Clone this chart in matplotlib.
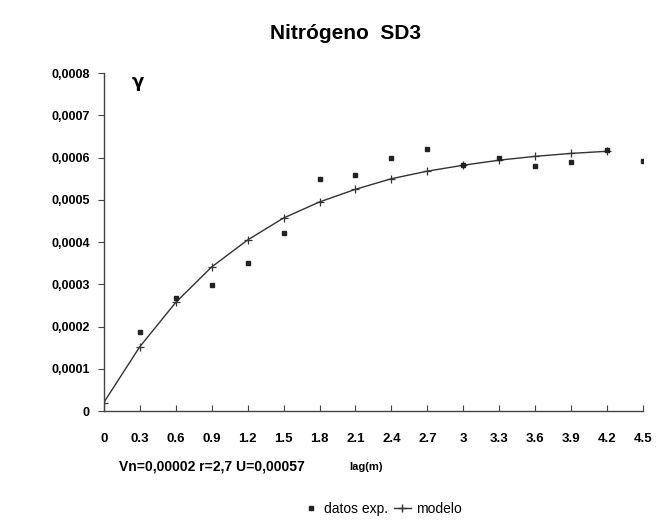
import numpy as np
import matplotlib
matplotlib.use("Agg")
import matplotlib.pyplot as plt
from matplotlib.lines import Line2D

# datos
lag_exp = [0.3, 0.6, 0.9, 1.2, 1.5, 1.8, 2.1, 2.4, 2.7, 3.0, 3.3, 3.6, 3.9, 4.2, 4.5]
gamma_exp = [0.000188, 0.000268, 0.000298, 0.000350, 0.000422, 0.000550, 0.000560,
             0.000600, 0.000620, 0.000582, 0.000598, 0.000580, 0.000590, 0.000617, 0.000592]

lag_mod = [0.0, 0.3, 0.6, 0.9, 1.2, 1.5, 1.8, 2.1, 2.4, 2.7, 3.0, 3.3, 3.6, 3.9, 4.2]
gamma_mod = [0.000020, 0.000152, 0.000257, 0.000341, 0.000405, 0.000457, 0.000495,
             0.000525, 0.000550, 0.000568, 0.000582, 0.000594, 0.000603, 0.000610, 0.000615]

xticks = [0, 0.3, 0.6, 0.9, 1.2, 1.5, 1.8, 2.1, 2.4, 2.7, 3, 3.3, 3.6, 3.9, 4.2, 4.5]
xticklabels = ['0', '0.3', '0.6', '0.9', '1.2', '1.5', '1.8', '2.1', '2.4', '2.7',
               '3', '3.3', '3.6', '3.9', '4.2', '4.5']
yticks = [0, 0.0001, 0.0002, 0.0003, 0.0004, 0.0005, 0.0006, 0.0007, 0.0008]
yticklabels = ['0', '0,0001', '0,0002', '0,0003', '0,0004', '0,0005', '0,0006', '0,0007', '0,0008']

plt.rcParams['font.family'] = ['Liberation Sans', 'DejaVu Sans']

fig = plt.figure(figsize=(6.61, 5.30), dpi=100)
ax = fig.add_axes([0.157, 0.2245, 0.816, 0.6375])

ax.plot(lag_mod, gamma_mod, color='#333333', lw=1.0, marker='+', ms=6, mew=0.9)
ax.plot(lag_exp, gamma_exp, ls='none', marker='s', ms=3.5, color='#222222')

ax.set_xlim(0, 4.5)
ax.set_ylim(0, 0.0008)
ax.set_xticks(xticks)
ax.set_xticklabels(xticklabels, fontsize=9.5, fontweight='bold')
ax.set_yticks(yticks)
ax.set_yticklabels(yticklabels, fontsize=9, fontweight='bold')
ax.tick_params(axis='x', direction='in', length=4, pad=16, color='#444444')
ax.tick_params(axis='y', direction='out', length=4, pad=6, color='#444444')
ax.spines['top'].set_visible(False)
ax.spines['right'].set_visible(False)
for s in ['left', 'bottom']:
    ax.spines[s].set_color('#444444')
    ax.spines[s].set_linewidth(1.0)

ax.text(0.063, 0.975, 'γ', transform=ax.transAxes, fontsize=13, fontweight='bold',
        family='DejaVu Sans', ha='center', va='center')

fig.text(0.522, 0.936, 'Nitrógeno  SD3', fontsize=15, fontweight='bold', ha='center', va='center')
fig.text(0.18, 0.12, 'Vn=0,00002 r=2,7 U=0,00057', fontsize=10, fontweight='bold', va='center')
fig.text(0.529, 0.118, 'lag(m)', fontsize=8, fontweight='bold', va='center')

h1 = Line2D([], [], ls='none', marker='s', ms=2.5, color='#222222')
h2 = Line2D([], [], color='#333333', lw=1.0, marker='+', ms=6)
fig.legend([h1, h2], ['datos exp.', 'modelo'], loc='center', bbox_to_anchor=(0.578, 0.04),
           ncol=2, frameon=False, fontsize=10, handlelength=1.2, columnspacing=0.4,
           handletextpad=0.4)

fig.savefig('out.png', dpi=100)
